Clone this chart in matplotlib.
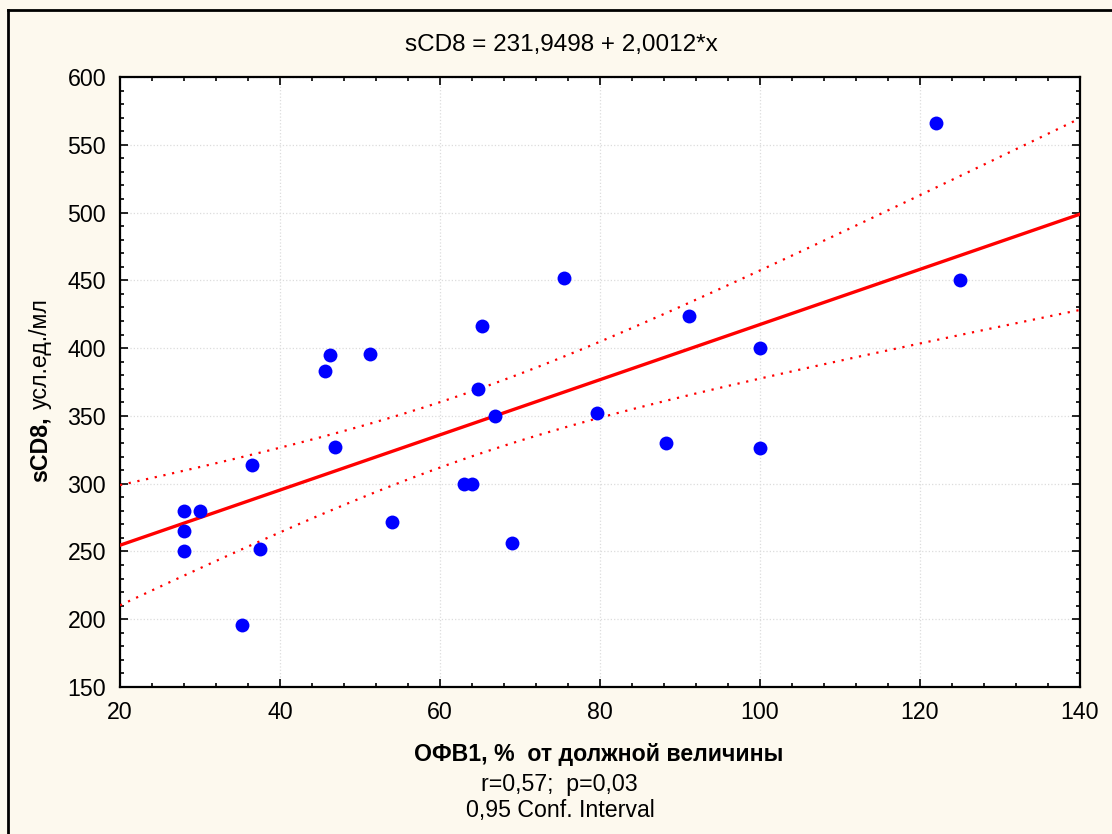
import numpy as np
import matplotlib.pyplot as plt
from matplotlib.lines import Line2D
from matplotlib.ticker import MultipleLocator

# data
fev1 = [28, 30, 28, 28, 35.2, 36.5, 37.5, 45.6, 46.3, 46.9, 51.3, 54,
        63, 64, 64.8, 65.3, 66.9, 69, 75.5, 79.6, 88.3, 91.1, 100, 100,
        122, 125]
scd8 = [280, 280, 265, 250, 196, 314, 252, 383, 395, 327, 396, 272,
        300, 300, 370, 416, 350, 256, 452, 352, 330, 424, 400, 326,
        566, 450]

title_txt = "sCD8 = 231,9498 + 2,0012*x"
ylabel_bold = "sCD8,"
ylabel_units = "усл.ед./мл"
xlabel_txt = "ОФВ1, %  от должной величины"
stats_txt = "r=0,57;  p=0,03"
ci_txt = "0,95 Conf. Interval"

plt.rcParams['font.family'] = ['Liberation Sans', 'DejaVu Sans']

bg = '#fdf9ee'
fs = 16.7
W, H = 1112, 834
fig = plt.figure(figsize=(W / 100, H / 100), dpi=100, facecolor=bg)
ax = fig.add_axes([0.1079, 0.1763, 0.8633, 0.7314])

x = np.array(fev1)
y = np.array(scd8)
n = len(x)
b, a = np.polyfit(x, y, 1)
xs = np.linspace(20, 140, 200)
yfit = a + b * xs
resid = y - (a + b * x)
s = np.sqrt(np.sum(resid ** 2) / (n - 2))
t = 2.0639  # t(0.975, df=24)
se = s * np.sqrt(1 / n + (xs - x.mean()) ** 2 / np.sum((x - x.mean()) ** 2))

ax.plot(xs, yfit, color='#ff0000', lw=2.4, zorder=3)
ax.plot(xs, yfit + t * se, color='#ff0000', lw=1.6, ls=(0, (1, 3)), zorder=3)
ax.plot(xs, yfit - t * se, color='#ff0000', lw=1.6, ls=(0, (1, 3)), zorder=3)
ax.scatter(x, y, s=100, color='#0000ff', zorder=4, linewidths=0)

ax.set_xlim(20, 140)
ax.set_ylim(150, 600)
ax.xaxis.set_major_locator(MultipleLocator(20))
ax.xaxis.set_minor_locator(MultipleLocator(4))
ax.yaxis.set_major_locator(MultipleLocator(50))
ax.yaxis.set_minor_locator(MultipleLocator(10))
ax.tick_params(which='both', direction='in', top=True, right=True,
               labelsize=fs, width=1.2, color='black')
ax.tick_params(which='major', length=6, pad=10)
ax.tick_params(which='minor', length=3)
ax.grid(True, which='major', color='#dcdcdc', ls=':', lw=0.9)
for sp in ax.spines.values():
    sp.set_linewidth(1.6)

fig.text(561 / W, 1 - 45 / H, title_txt, ha='center', va='center',
         fontsize=17.5)

# y label: bold name + regular units, reading bottom to top
lab_x = 40 / W
y_start = 1 - 482 / H
t1 = fig.text(lab_x, y_start, ylabel_bold, rotation=90, rotation_mode='anchor',
              ha='left', va='center', fontsize=fs, fontweight='bold')
fig.canvas.draw()
h1 = t1.get_window_extent().height / H
fig.text(lab_x, y_start + h1 + 7 / H, ylabel_units, rotation=90,
         rotation_mode='anchor', ha='left', va='center', fontsize=fs)

fig.text(599 / W, 1 - 755 / H, xlabel_txt, ha='center', va='center',
         fontsize=fs, fontweight='bold')
fig.text(559 / W, 1 - 785 / H, stats_txt, ha='center', va='center',
         fontsize=fs)
fig.text(560 / W, 1 - 811 / H, ci_txt, ha='center', va='center',
         fontsize=fs)

# outer frame (left and top edges visible)
fig.add_artist(Line2D([8 / W, 8 / W], [0, 1 - 10 / H],
                      color='black', lw=2, transform=fig.transFigure))
fig.add_artist(Line2D([8 / W, 1], [1 - 10 / H, 1 - 10 / H],
                      color='black', lw=2, transform=fig.transFigure))

plt.savefig("out.png", dpi=100, facecolor=bg)
